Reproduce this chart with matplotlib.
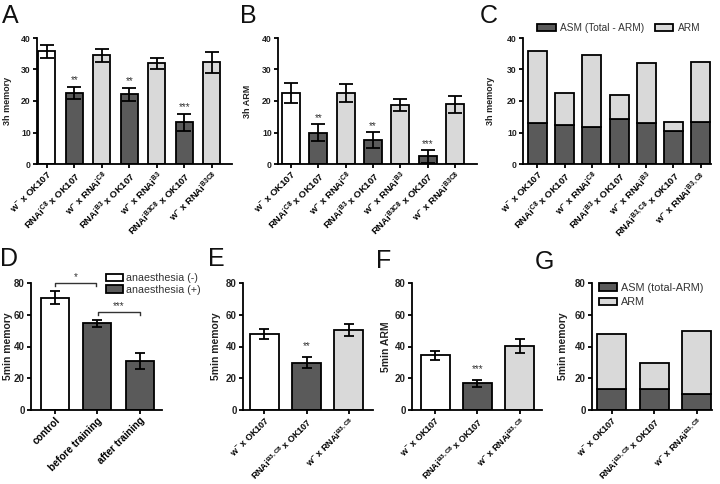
import numpy as np
import matplotlib
matplotlib.use('Agg')
import matplotlib.pyplot as plt
from matplotlib.patches import Patch
from matplotlib.transforms import ScaledTranslation

plt.rcParams['font.family'] = ['Liberation Sans', 'DejaVu Sans']
plt.rcParams['mathtext.default'] = 'regular'


def sup(s):
    return r'$\mathregular{^{%s}}$' % s


# ---- data ----
labels_3h = ['w' + sup('-') + ' x OK107',
             'RNAi' + sup('C8') + ' x OK107',
             'w' + sup('-') + ' x RNAi' + sup('C8'),
             'RNAi' + sup('B3') + ' x OK107',
             'w' + sup('-') + ' x RNAi' + sup('B3'),
             'RNAi' + sup('B3C8') + ' x OK107',
             'w' + sup('-') + ' x RNAi' + sup('B3C8')]
labels_3h_c = labels_3h[:5] + ['RNAi' + sup('B3,C8') + ' x OK107',
                               'w' + sup('-') + ' x RNAi' + sup('B3,C8')]
labels_5min = ['w' + sup('-') + ' x OK107',
               'RNAi' + sup('B3,C8') + ' x OK107',
               'w' + sup('-') + ' x RNAi' + sup('B3,C8')]
labels_anaes = ['control', 'before training', 'after training']

a_mean = [35.8, 22.6, 34.5, 22.1, 32.0, 13.2, 32.3]
a_err = [2.1, 2.0, 2.1, 2.0, 1.8, 2.7, 3.3]
a_stars = ['', '**', '', '**', '', '***', '']

b_mean = [22.5, 10.0, 22.6, 7.6, 18.7, 2.4, 18.9]
b_err = [3.2, 2.8, 2.8, 2.6, 2.0, 2.2, 2.6]
b_stars = ['', '**', '', '**', '', '***', '']

c_total = [35.8, 22.5, 34.7, 22.0, 32.0, 13.2, 32.3]
c_asm = [13.1, 12.4, 11.9, 14.2, 12.9, 10.5, 13.2]

d_mean = [70.8, 54.5, 30.8]
d_err = [3.9, 2.2, 4.9]

e_mean = [48.0, 29.9, 50.5]
e_err = [3.1, 3.7, 3.9]
e_stars = ['', '**', '']

f_mean = [34.6, 16.8, 40.2]
f_err = [2.8, 2.2, 4.4]
f_stars = ['', '***', '']

g_total = [47.7, 29.7, 50.0]
g_asm = [13.2, 13.0, 9.8]

# ---- style ----
WHITE = '#ffffff'
DARK = '#5a5a5a'
LIGHT = '#d9d9d9'
TXT = '#222222'
cols7 = [WHITE, DARK, LIGHT, DARK, LIGHT, DARK, LIGHT]
cols3 = [WHITE, DARK, LIGHT]
LW = 1.3
W, H = 720, 484

fig = plt.figure(figsize=(7.2, 4.84), dpi=100)


def rect(l, r, t, b):
    return [l / W, 1 - b / H, (r - l) / W, (b - t) / H]


def setup(ax, labels, ylim, yticks, ylabel, lab_px, box, xlim, fs,
          shift=(0, 0)):
    ax.set_xlim(*xlim)
    ax.set_ylim(*ylim)
    ax.set_yticks(yticks)
    ax.set_xticks(range(len(labels)))
    ax.set_xticklabels(labels, rotation=45, ha='right', va='top',
                       rotation_mode='anchor', fontsize=fs[2],
                       fontweight='bold', color=TXT)
    off = ScaledTranslation(shift[0] / 100, shift[1] / 100,
                            fig.dpi_scale_trans)
    for t in ax.get_xticklabels():
        t.set_transform(t.get_transform() + off)
    for s in ['top', 'right']:
        ax.spines[s].set_visible(False)
    for s in ['left', 'bottom']:
        ax.spines[s].set_linewidth(LW)
    ax.tick_params(length=3, width=LW, pad=1.5, colors='k')
    ax.tick_params(axis='x', pad=1)
    ax.tick_params(axis='y', labelsize=fs[0])
    for t in ax.get_yticklabels():
        t.set_fontweight('bold')
        t.set_color(TXT)
    ax.set_ylabel(ylabel, fontsize=fs[1], fontweight='bold', color=TXT)
    l, r = box
    ax.yaxis.set_label_coords((lab_px - l) / (r - l), 0.5)


def bars(ax, mean, err, colors, width, cap, stars=None, pad=2):
    x = np.arange(len(mean))
    ax.bar(x, mean, width=width, color=colors, edgecolor='k', linewidth=LW,
           yerr=err, error_kw=dict(ecolor='k', elinewidth=LW, capsize=cap,
                                   capthick=LW))
    if stars:
        for i, s in enumerate(stars):
            if s:
                ax.annotate(s, (x[i], mean[i] + err[i]), xytext=(0, pad),
                            textcoords='offset points', ha='center',
                            va='bottom', fontsize=7, color='#333333')


def stacked(ax, total, asm, width):
    x = np.arange(len(total))
    arm = np.array(total) - np.array(asm)
    ax.bar(x, asm, width=width, color=DARK, edgecolor='k', linewidth=LW)
    ax.bar(x, arm, bottom=asm, width=width, color=LIGHT, edgecolor='k',
           linewidth=LW)


top_fs = (6.2, 6.5, 6.8)
bot_fs = (7, 7.5, 7.3)
bot_fs2 = (7, 7.5, 6.5)
SH = (4, 5)

# A
axA = fig.add_axes(rect(37, 232, 38, 164))
bars(axA, a_mean, a_err, cols7, 0.62, 4.7, a_stars, pad=1.3)
setup(axA, labels_3h, (0, 40), [0, 10, 20, 30, 40], '3h memory', 12,
      (37, 232), (-0.36, 6.73), top_fs)

# B
axB = fig.add_axes(rect(278, 477, 38, 164))
bars(axB, b_mean, b_err, cols7, 0.66, 4.7, b_stars, pad=0.5)
setup(axB, labels_3h, (0, 40), [0, 10, 20, 30, 40], '3h ARM', 252,
      (278, 477), (-0.48, 6.81), top_fs)

# C
axC = fig.add_axes(rect(523, 711, 38, 164))
stacked(axC, c_total, c_asm, 0.7)
setup(axC, labels_3h_c, (0, 40), [0, 10, 20, 30, 40], '3h memory', 495,
      (523, 711), (-0.53, 6.38), top_fs)
fig.legend([Patch(facecolor=DARK, edgecolor='k', linewidth=LW),
            Patch(facecolor=LIGHT, edgecolor='k', linewidth=LW)],
           ['ASM (Total - ARM)', 'ARM'], loc='center left',
           bbox_to_anchor=(537 / W, 1 - 28 / H), ncol=2, frameon=False,
           fontsize=7.3, handlelength=1.85, handleheight=0.8,
           handletextpad=0.45, columnspacing=1.0, borderpad=0,
           borderaxespad=0, labelcolor='#333333')

# D
axD = fig.add_axes(rect(31, 162, 283, 410))
bars(axD, d_mean, d_err, [WHITE, DARK, DARK], 0.66, 3.8)
setup(axD, labels_anaes, (0, 80), [0, 20, 40, 60, 80], '5min memory', 13,
      (31, 162), (-0.56, 2.52), bot_fs)
for (x0, x1, yb, s) in [(0, 0.97, 80, '*'), (1.01, 2.0, 62, '***')]:
    axD.plot([x0, x0, x1, x1], [yb - 2.2, yb, yb, yb - 2.2], color='#333333',
             lw=1.0, clip_on=False)
    axD.text((x0 + x1) / 2, yb + 0.5, s, ha='center', va='bottom',
             fontsize=7, color='#333333')
fig.legend([Patch(facecolor=WHITE, edgecolor='k', linewidth=LW),
            Patch(facecolor=DARK, edgecolor='k', linewidth=LW)],
           ['anaesthesia (-)', 'anaesthesia (+)'], loc='upper left',
           bbox_to_anchor=(106 / W, 1 - 273 / H), frameon=False,
           fontsize=7.7, handlelength=1.55, handleheight=0.7,
           handletextpad=0.35, labelspacing=0.15, borderpad=0,
           borderaxespad=0, labelcolor='#333333')

# E
axE = fig.add_axes(rect(243, 373, 283, 410))
bars(axE, e_mean, e_err, cols3, 0.69, 3.8, e_stars, pad=4)
setup(axE, labels_5min, (0, 80), [0, 20, 40, 60, 80], '5min memory', 221,
      (243, 373), (-0.51, 2.58), bot_fs2, SH)

# F
axF = fig.add_axes(rect(412, 542, 283, 410))
bars(axF, f_mean, f_err, cols3, 0.68, 3.8, f_stars, pad=4.5)
setup(axF, labels_5min, (0, 80), [0, 20, 40, 60, 80], '5min ARM', 391,
      (412, 542), (-0.55, 2.53), bot_fs2, SH)

# G
axG = fig.add_axes(rect(592, 712, 283, 410))
stacked(axG, g_total, g_asm, 0.68)
setup(axG, labels_5min, (0, 80), [0, 20, 40, 60, 80], '5min memory', 568,
      (592, 712), (-0.46, 2.36), bot_fs2, SH)
fig.legend([Patch(facecolor=DARK, edgecolor='k', linewidth=LW),
            Patch(facecolor=LIGHT, edgecolor='k', linewidth=LW)],
           ['ASM (total-ARM)', 'ARM'], loc='center left',
           bbox_to_anchor=(599 / W, 1 - 295 / H), frameon=False,
           fontsize=7.8, handlelength=1.65, handleheight=0.7,
           handletextpad=0.35, labelspacing=0.45, borderpad=0,
           borderaxespad=0, labelcolor='#333333')

# panel letters
for lab, x, y in [('A', 2, 4), ('B', 240, 4), ('C', 480, 4),
                  ('D', 0, 247), ('E', 208, 247), ('F', 376, 249),
                  ('G', 535, 250)]:
    fig.text(x / W, 1 - y / H, lab, fontsize=18, ha='left', va='top',
             color='#111111')

fig.savefig('out.png', dpi=100)
